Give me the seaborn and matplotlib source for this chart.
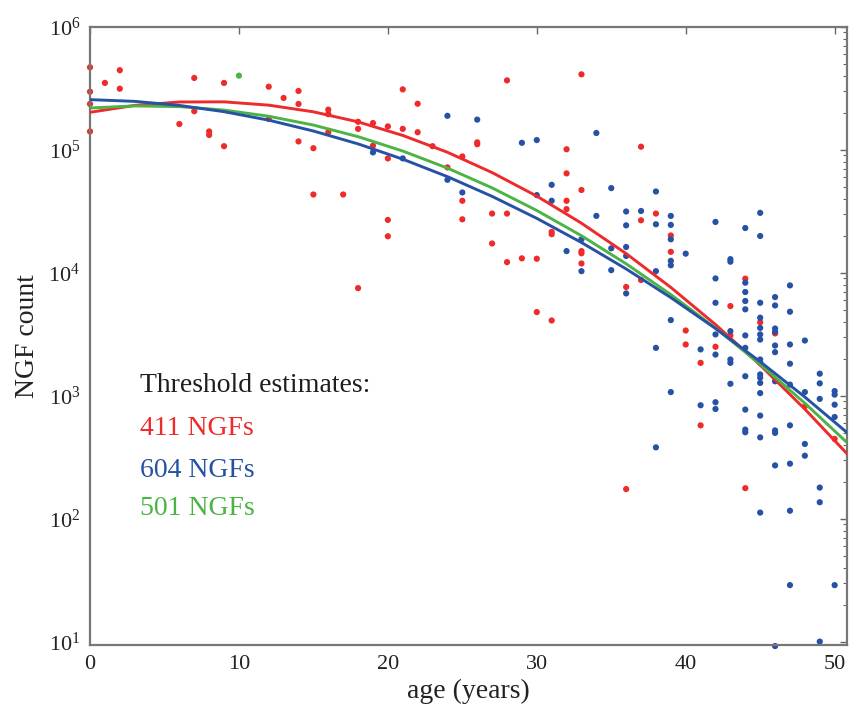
import numpy as np
import pandas as pd
import matplotlib
matplotlib.use("Agg")
import matplotlib.pyplot as plt
import seaborn as sns
from matplotlib.ticker import LogLocator, NullFormatter

# ---------------- data ----------------
red_age = [0, 0, 0, 0, 1, 2, 2, 6, 7, 7, 8, 8, 9, 9, 12, 12, 13, 14, 14, 14,
           15, 15, 16, 16, 16, 17, 18, 18, 18, 19, 19, 20, 20, 20, 20, 21, 21,
           22, 22, 23, 24, 25, 25, 25, 26, 26, 27, 27, 28, 28, 28, 29, 30, 30,
           31, 31, 31, 32, 32, 32, 32, 33, 33, 33, 33, 33, 36, 36, 37, 37, 37,
           38, 39, 39, 40, 40, 41, 41, 42, 43, 43, 44, 44, 45, 46, 48, 50]
red_count = [469000, 297000, 236000, 141000, 350000, 444000, 314000, 162000,
             384000, 206000, 141000, 132000, 350000, 107000, 326000, 178000,
             264000, 301000, 236000, 117000, 103000, 43300, 212000, 195000,
             139000, 43300, 169000, 148000, 7500, 165000, 108000, 155000,
             85100, 26900, 19800, 310000, 148000, 237000, 139000, 107000,
             71900, 88300, 38500, 27200, 115000, 111000, 30300, 17300, 367000,
             30300, 12200, 13100, 13000, 4790, 21500, 20600, 4090, 101000,
             64300, 38500, 32900, 411000, 47100, 15000, 14400, 11900, 7660,
             174, 106000, 26700, 8730, 30300, 20100, 14800, 3390, 2610, 1850,
             574, 2500, 5360, 3090, 8950, 177, 3960, 3210, 820, 445]

blue_age = [19, 21, 24, 24, 25, 26, 29, 30, 30, 31, 31, 32, 33, 33, 34, 34,
            35, 35, 35, 36, 36, 36, 36, 36, 37, 38, 38, 38, 38, 38,
            39, 39, 39, 39, 39, 39, 39, 40, 41, 41,
            42, 42, 42, 42, 42, 42, 42, 43, 43, 43, 43, 43, 43,
            44, 44, 44, 44, 44, 44, 44, 44, 44, 44, 44,
            45, 45, 45, 45, 45, 45, 45, 45, 45, 45, 45, 45, 45, 45, 45, 45,
            46, 46, 46, 46, 46, 46, 46, 46, 46, 46, 46,
            47, 47, 47, 47, 47, 47, 47, 47, 47,
            48, 48, 48, 48, 49, 49, 49, 49, 49, 49, 50, 50, 50, 50, 50]
blue_count = [95300, 85100, 189000, 57000, 45000, 176000, 114000, 120000,
              42800, 51900, 38500, 15000, 18700, 10300, 137000, 29000, 48800,
              15800, 10500, 31500, 24300, 16200, 13700, 6790, 31800, 45800,
              24800, 10300, 2450, 380,
              29000, 24500, 18700, 12500, 11500, 4120, 1070, 14300, 2380, 836,
              25900, 8990, 5700, 3150, 2160, 885, 780,
              12900, 12300, 3350, 1970, 1850, 1250,
              23100, 8300, 6970, 5890, 5040, 3090, 2450, 1440, 771, 530, 504,
              30700, 19900, 5700, 4310, 3560, 3150, 2860, 1970, 1850, 1490,
              1400, 1270, 1050, 689, 458, 112,
              6340, 5420, 3520, 3310, 2560, 2260, 1310, 522, 498, 271, 9.2,
              7890, 4820, 2610, 1820, 1230, 574, 280, 116, 28.8,
              2810, 1070, 405, 325, 1510, 1260, 942, 179, 136, 10.0,
              1090, 1020, 845, 671, 28.8]

green_age = [10]
green_count = [401000]

# fitted curves at 3-year steps
curve_age = [0, 3, 6, 9, 12, 15, 18, 21, 24, 27, 30, 33, 36, 39, 42, 45, 48, 51]
red_fit = [201800, 229600, 244900, 245500, 230700, 203700, 168700, 130900,
           95500, 65300, 42000, 25300, 14320, 7600, 3790, 1774, 778, 321]
blue_fit = [255900, 247700, 229600, 204200, 174200, 142200, 111700, 83900,
            60500, 41800, 27700, 17620, 10740, 6280, 3520, 1892, 975, 482]
green_fit = [218800, 227500, 224400, 210400, 187500, 158900, 127900, 97700,
             71000, 49000, 32100, 20000, 11830, 6650, 3550, 1803, 869, 398]

threshold_labels = ["411 NGFs", "604 NGFs", "501 NGFs"]

# ---------------- styling ----------------
RED = "#ee2a2a"
BLUE = "#2652a6"
GREEN = "#4cb444"

sns.set_style("white")
plt.rcParams["font.family"] = ["Liberation Serif", "DejaVu Serif"]
plt.rcParams["mathtext.fontset"] = "custom"
plt.rcParams["mathtext.rm"] = "Liberation Serif"
plt.rcParams["mathtext.it"] = "Liberation Serif:italic"
plt.rcParams["mathtext.bf"] = "Liberation Serif:bold"

points = pd.concat([
    pd.DataFrame({"age": red_age, "count": red_count, "group": "red"}),
    pd.DataFrame({"age": blue_age, "count": blue_count, "group": "blue"}),
    pd.DataFrame({"age": green_age, "count": green_count, "group": "green"}),
], ignore_index=True)

curves = pd.concat([
    pd.DataFrame({"age": curve_age, "count": red_fit, "fit": "red"}),
    pd.DataFrame({"age": curve_age, "count": green_fit, "fit": "green"}),
    pd.DataFrame({"age": curve_age, "count": blue_fit, "fit": "blue"}),
], ignore_index=True)

pal = {"red": RED, "blue": BLUE, "green": GREEN}

fig = plt.figure(figsize=(8.49, 7.16), dpi=100)
ax = fig.add_axes([0.106, 0.0985, 0.892, 0.864])

sns.scatterplot(data=points, x="age", y="count", hue="group",
                hue_order=["red", "blue", "green"], palette=pal, s=20,
                linewidth=0, legend=False, ax=ax, zorder=2, clip_on=False)
sns.lineplot(data=curves, x="age", y="count", hue="fit",
             hue_order=["red", "green", "blue"], palette=pal, linewidth=2.1,
             estimator=None, sort=False, legend=False, ax=ax, zorder=3)

ax.set_yscale("log")
ax.set_xlim(0, 50.85)
ax.set_ylim(9.3, 1.0e6)

ax.set_xticks([0, 10, 20, 30, 40, 50])
ax.yaxis.set_major_locator(LogLocator(base=10, numticks=10))
ax.yaxis.set_minor_locator(LogLocator(base=10, subs=np.arange(2, 10), numticks=20))
ax.yaxis.set_minor_formatter(NullFormatter())

ax.tick_params(which="both", direction="in", top=True, right=True,
               color="#666666")
ax.tick_params(which="major", length=5, width=1.0, labelsize=16, pad=7,
               labelcolor="#222222")
ax.tick_params(which="minor", length=3, width=0.8)

for sp in ax.spines.values():
    sp.set_visible(True)
    sp.set_color("#777777")
    sp.set_linewidth(1.6)

ax.set_xlabel("age (years)", fontsize=20, labelpad=3, color="#222222")
ax.set_ylabel("NGF count", fontsize=20, labelpad=6, color="#222222")

ax.text(0.066, 0.421, "Threshold estimates:", transform=ax.transAxes,
        fontsize=20, va="center", ha="left", color="#1e1e1e")
for lbl, col, yy in zip(threshold_labels, [RED, BLUE, GREEN], [0.351, 0.283, 0.222]):
    ax.text(0.066, yy, lbl, transform=ax.transAxes, fontsize=20,
            va="center", ha="left", color=col)

fig.savefig("out.png", dpi=100)
